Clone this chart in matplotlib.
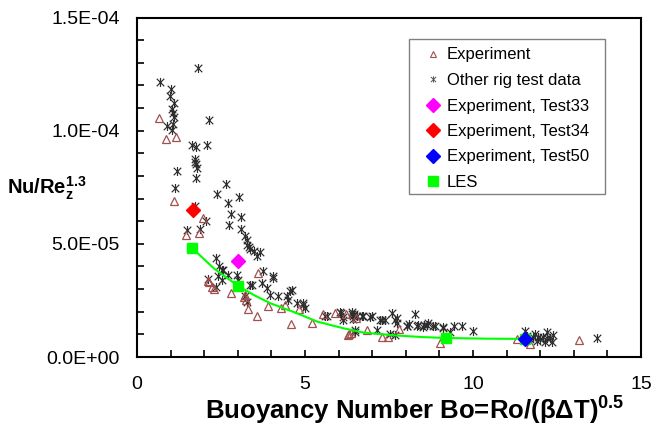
import matplotlib
matplotlib.use("Agg")
import matplotlib.pyplot as plt
from matplotlib.path import Path
from matplotlib.patches import Rectangle
from matplotlib.lines import Line2D
from matplotlib.ticker import MultipleLocator, FuncFormatter

plt.rcParams['font.family'] = ['Liberation Sans', 'DejaVu Sans']
plt.rcParams['mathtext.fontset'] = 'custom'
plt.rcParams['mathtext.rm'] = 'Liberation Sans'
plt.rcParams['mathtext.bf'] = 'Liberation Sans:bold'

SCALE = 1e-5  # y values below are given in units of 1E-05

# Experiment (open triangles)
exp_x = [0.66, 0.86, 1.15, 1.09, 1.97, 1.46, 1.84, 3.60, 2.11, 2.24, 2.15, 2.30,
         2.81, 3.18, 3.24, 3.20, 3.30, 3.56, 3.91, 4.30, 4.40, 4.58, 4.83, 5.22,
         5.53, 5.90, 6.23, 6.52, 6.31, 6.36, 6.28, 6.86, 7.30, 7.48, 7.79, 9.02,
         11.30, 11.70, 13.15]
exp_y = [10.55, 9.62, 9.73, 6.91, 6.12, 5.38, 5.46, 3.72, 3.37, 3.09, 3.30, 3.00,
         2.83, 2.65, 2.50, 2.75, 2.13, 1.80, 2.27, 2.15, 2.29, 1.46, 2.14, 1.52,
         1.88, 1.95, 1.90, 1.72, 1.02, 1.05, 0.98, 1.21, 0.88, 0.90, 1.23, 0.64,
         0.81, 0.56, 0.74]

# Other rig test data (stars)
other_x = [0.68, 1.82, 1.01, 0.98, 1.10, 1.03, 1.06, 1.11, 0.88, 1.06, 1.05, 2.14,
           1.65, 1.76, 2.08, 1.73, 1.75, 1.78, 1.72, 1.76, 1.18, 1.13, 2.64, 2.39,
           2.70, 3.03, 1.73, 2.80, 3.10, 2.73, 3.10, 3.21, 3.27, 3.28, 3.33, 3.36,
           3.48, 3.66, 3.56, 2.05, 1.50, 1.88, 2.35, 2.45, 2.55, 2.42, 2.52, 2.72,
           2.97, 3.02, 2.12, 2.35, 3.76, 4.06, 3.36, 3.71, 3.86, 3.96, 4.21, 4.46,
           4.60, 4.50, 4.75, 4.95, 5.00, 3.21, 3.27, 5.65, 6.04, 6.39, 6.14, 6.54,
           6.74, 6.93, 7.28, 7.38, 7.58, 7.73, 8.03, 7.13, 6.49, 7.68, 5.60, 6.06,
           6.14, 6.69, 6.98, 7.23, 7.68, 7.73, 8.27, 8.03, 8.32, 8.62, 8.87, 9.12,
           6.49, 7.53, 8.37, 8.52, 8.67, 8.82, 9.12, 9.42, 9.66, 10.01, 9.32, 11.55,
           11.79, 11.94, 12.09, 12.19, 12.29, 12.34, 12.39, 12.14, 11.90, 13.68,
           11.60, 6.40, 6.45, 2.52, 3.41, 4.06, 4.55, 4.95, 11.70, 12.00, 12.20,
           11.85, 6.42, 6.44, 8.10, 8.55]
other_y = [12.15, 12.78, 11.84, 11.53, 11.22, 10.96, 10.77, 10.59, 10.22, 10.30, 10.04, 10.46,
           9.38, 9.29, 9.38, 8.74, 8.52, 8.37, 8.60, 7.93, 8.20, 7.46, 7.65, 7.18,
           6.82, 7.07, 6.67, 6.32, 6.17, 5.85, 5.64, 5.34, 5.16, 4.97, 4.85, 4.79,
           4.67, 4.63, 4.45, 6.01, 5.61, 5.67, 4.38, 4.04, 3.86, 3.56, 3.42, 3.64,
           3.64, 3.42, 3.45, 3.09, 3.79, 3.49, 3.20, 3.27, 3.05, 2.75, 2.68, 2.71,
           2.97, 2.53, 2.38, 2.31, 2.16, 2.68, 2.45, 1.82, 2.01, 2.01, 1.75, 1.79,
           1.79, 1.76, 1.64, 1.64, 1.94, 1.72, 1.39, 1.20, 1.12, 0.98, 1.79, 1.94,
           1.64, 1.79, 1.79, 1.64, 1.64, 1.49, 1.91, 1.37, 1.37, 1.42, 1.35, 1.27,
           1.20, 1.02, 1.42, 1.32, 1.52, 1.35, 1.32, 1.35, 1.38, 1.17, 1.12, 1.17,
           0.87, 0.87, 0.87, 1.12, 0.83, 0.68, 0.98, 0.68, 0.72, 0.86,
           0.93, 1.92, 1.88, 3.86, 3.20, 3.56, 2.90, 2.38, 0.80, 0.78, 0.85,
           1.00, 1.80, 1.70, 1.45, 1.40]

# Single test points (diamonds)
test33_x, test33_y = [3.00], [4.26]
test34_x, test34_y = [1.66], [6.50]
test50_x, test50_y = [11.55], [0.80]

# LES results (squares) and the LES trend curve
les_x = [1.65, 3.00, 9.20, 11.55]
les_y = [4.80, 3.15, 0.84, 0.80]
les_curve_x = [1.65, 2.30, 3.00, 3.50, 3.96, 4.75, 5.35, 6.14, 6.74, 7.73, 8.50, 9.20, 10.40, 11.55]
les_curve_y = [4.80, 3.90, 3.15, 2.72, 2.38, 1.94, 1.57, 1.27, 1.08, 0.95, 0.88, 0.84, 0.81, 0.80]

x_ticks = [0, 5, 10, 15]
y_ticks = [0.0, 5.0e-5, 1.0e-4, 1.5e-4]

W, H = 653, 425
fig = plt.figure(figsize=(W / 100, H / 100), dpi=100)
ax = fig.add_axes([137 / W, 1 - 357 / H, (641 - 137) / W, (357 - 17.5) / H])

# Star marker: an "x" with a vertical stroke through it
star = Path([(-1, -1), (1, 1), (-1, 1), (1, -1), (0, -1.2), (0, 1.2)],
            [Path.MOVETO, Path.LINETO, Path.MOVETO, Path.LINETO, Path.MOVETO, Path.LINETO])

tri_color = '#A0504F'
star_color = '#2E2E2E'

sc = lambda v: [s * SCALE for s in v]

ax.plot(other_x, sc(other_y), linestyle='none', marker=star, ms=6.5,
        mec=star_color, mew=0.85, zorder=2)
ax.plot(exp_x, sc(exp_y), linestyle='none', marker='^', ms=5.8,
        mfc='none', mec=tri_color, mew=0.9, zorder=3)
ax.plot(les_curve_x, sc(les_curve_y), color='#00FF00', lw=1.5, zorder=4)
ax.plot(les_x, sc(les_y), linestyle='none', marker='s', ms=7.5,
        mfc='#00FF00', mec='#00FF00', zorder=5)
ax.plot(test33_x, sc(test33_y), linestyle='none', marker='D', ms=7,
        mfc='#FF00FF', mec='#FF00FF', zorder=6)
ax.plot(test34_x, sc(test34_y), linestyle='none', marker='D', ms=7,
        mfc='#FF0000', mec='#FF0000', zorder=6)
ax.plot(test50_x, sc(test50_y), linestyle='none', marker='D', ms=7,
        mfc='#0000FF', mec='#0000FF', zorder=6)

ax.set_xlim(0, 15)
ax.set_ylim(0, 1.5e-4)
ax.set_xticks(x_ticks)
ax.set_yticks(y_ticks)
ax.xaxis.set_minor_locator(MultipleLocator(1))
ax.yaxis.set_minor_locator(MultipleLocator(1e-5))
ax.yaxis.set_major_formatter(FuncFormatter(lambda v, p: f"{v:.1E}"))
ax.xaxis.set_major_formatter(FuncFormatter(lambda v, p: f"{v:g}"))
ax.tick_params(which='both', direction='in', length=5, width=1.2, color='black')
ax.tick_params(axis='y', which='major', pad=12.5, labelsize=14)
ax.tick_params(axis='x', which='major', pad=14, labelsize=14)
for s in ax.spines.values():
    s.set_linewidth(1.5)
    s.set_color('black')

fig.text(7 / W, 1 - 188 / H, r'Nu/Re$_{\mathbf{z}}^{\mathbf{1.3}}$', fontsize=14.5,
         fontweight='bold', ha='left', va='center')
fig.text(205 / W, 1 - 419 / H, r'Buoyancy Number Bo=Ro/(βΔT)$^{\mathbf{0.5}}$',
         fontsize=18.5, fontweight='bold', ha='left', va='baseline')

# Legend with a plain grey frame
fig.patches.append(Rectangle((409 / W, 1 - 194 / H), (605 - 409) / W, (194 - 39) / H,
                             transform=fig.transFigure, fill=True, facecolor='white',
                             edgecolor='#808080', lw=1.0, zorder=10))
handles = [
    Line2D([], [], linestyle='none', marker='^', ms=4, mfc='none', mec=tri_color, mew=0.8),
    Line2D([], [], linestyle='none', marker=star, ms=4.5, mec='#555555', mew=0.7),
    Line2D([], [], linestyle='none', marker='D', ms=7, mfc='#FF00FF', mec='#FF00FF'),
    Line2D([], [], linestyle='none', marker='D', ms=7, mfc='#FF0000', mec='#FF0000'),
    Line2D([], [], linestyle='none', marker='D', ms=7, mfc='#0000FF', mec='#0000FF'),
    Line2D([], [], linestyle='none', marker='s', ms=7, mfc='#00FF00', mec='#00FF00'),
]
labels = ['Experiment', 'Other rig test data', 'Experiment, Test33',
          'Experiment, Test34', 'Experiment, Test50', 'LES']
leg = fig.legend(handles, labels, loc='upper left',
                 bbox_to_anchor=(425 / W, 1 - 47.5 / H), frameon=False,
                 fontsize=12, borderpad=0, borderaxespad=0, handlelength=1.0,
                 handletextpad=0.3, labelspacing=0.63)
leg.set_zorder(11)

fig.savefig('out.png', dpi=100)
